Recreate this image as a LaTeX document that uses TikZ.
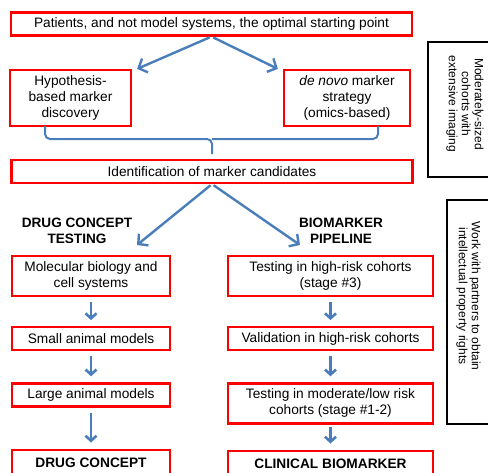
\documentclass[tikz,border=0pt]{standalone}
\usepackage{fontspec}
\setmainfont{Liberation Sans}
\usepackage{xcolor}
\usepackage{tikz}
\usetikzlibrary{arrows.meta, positioning}

\definecolor{flowblue}{RGB}{74,126,187}
\definecolor{boxred}{RGB}{255,0,0}

\begin{document}
\begin{tikzpicture}[x=1pt,y=-1pt]
		\tikzset{
			node distance=29pt and 20pt,
			box/.style={rectangle, draw=boxred, line width=2.2pt, fill=white, align=center,
			font=\fontsize{13.7}{16}\selectfont, inner sep=0pt, minimum height=23pt},
			heading/.style={align=center, font=\fontsize{13.6}{16}\selectfont\bfseries},
			sidetext/.style={align=center, rotate=-90, font=\fontsize{12}{13}\selectfont},
			sideframe/.style={draw=black, line width=2pt},
			flow/.style={draw=flowblue, line width=2.4pt, -{Straight Barb[length=7pt,width=15pt]}},
			down/.style={draw=flowblue, line width=2.6pt, -{Straight Barb[length=5pt,width=11pt]},
			shorten <=5pt, shorten >=6pt},
			bracket/.style={draw=flowblue, line width=2pt, rounded corners=5pt}
		}
		\clip (0,0) rectangle (488,472);
		\useasboundingbox (0,0) rectangle (488,472);

		\node[box, minimum width=401pt](start) at (211.5,24){Patients, and not model systems, the optimal starting point};
		\node[box, minimum width=121pt, minimum height=56pt](hypo) at (70.5,98){Hypothesis-\\based marker\\discovery};
		\node[box, minimum width=126pt, minimum height=56pt](denovo) at (347,98){\textit{de novo} marker\\strategy\\(omics-based)};
		\node[box, minimum width=401pt](ident) at (212,171.5){Identification of marker candidates};

		\node[heading](drughead) at (77,231){DRUG CONCEPT\\TESTING};
		\node[heading](biohead) at (341,231){BIOMARKER\\PIPELINE};
		\coordinate (drugend) at (137,245);
		\coordinate (bioend) at (300,245);

		\node[box, minimum width=158pt, minimum height=40pt](molbio) at (91,276){Molecular biology and\\cell systems};
		\node[box, minimum width=158pt, below=of molbio](small){Small animal models};
		\node[box, minimum width=158pt, below=31pt of small](large){Large animal models};
		\node[box, minimum width=158pt, minimum height=26pt, below=41pt of large](drugc){\bfseries DRUG CONCEPT};

		\node[box, minimum width=205pt, minimum height=40pt](highrisk) at (330.5,276){Testing in high-risk cohorts\\(stage \#3)};
		\node[box, minimum width=205pt, below=of highrisk](valid){Validation in high-risk cohorts};
		\node[box, minimum width=205pt, minimum height=40pt, below=31pt of valid](modlow){Testing in moderate/low risk\\cohorts (stage \#1-2)};
		\node[box, minimum width=205pt, minimum height=26pt, below=25pt of modlow](clinic){\bfseries CLINICAL BIOMARKER};

		% side notes
		\draw[sideframe] (428,42) rectangle (520,177);
		\node[sidetext](cohorts) at (465,104){Moderately-sized\\cohorts with\\extensive imaging};
		\draw[sideframe] (447,200) rectangle (520,424);
		\node[sidetext](partners) at (468.5,296){Work with partners to obtain\\intellectual property rights};

		\draw[flow, shorten <=2pt](start.south) -- ([xshift=5pt]hypo.north east);
		\draw[flow, shorten <=2pt](start.south) -- ([xshift=-5pt]denovo.north west);
		\draw[bracket](45,126) |- (212,139) -- (212,154);
		\draw[bracket](378,126) |- (212,139);
		\draw[flow, shorten <=2pt](ident.south) -- (drugend);
		\draw[flow, shorten <=2pt](ident.south) -- (bioend);

		\draw[down](molbio) -- (small);
		\draw[down](small) -- (large);
		\draw[down](large) -- (drugc);
		\draw[down](highrisk) -- (valid);
		\draw[down](valid) -- (modlow);
		\draw[down, shorten <=2pt](modlow) -- (clinic);
	\end{tikzpicture}
\end{document}
